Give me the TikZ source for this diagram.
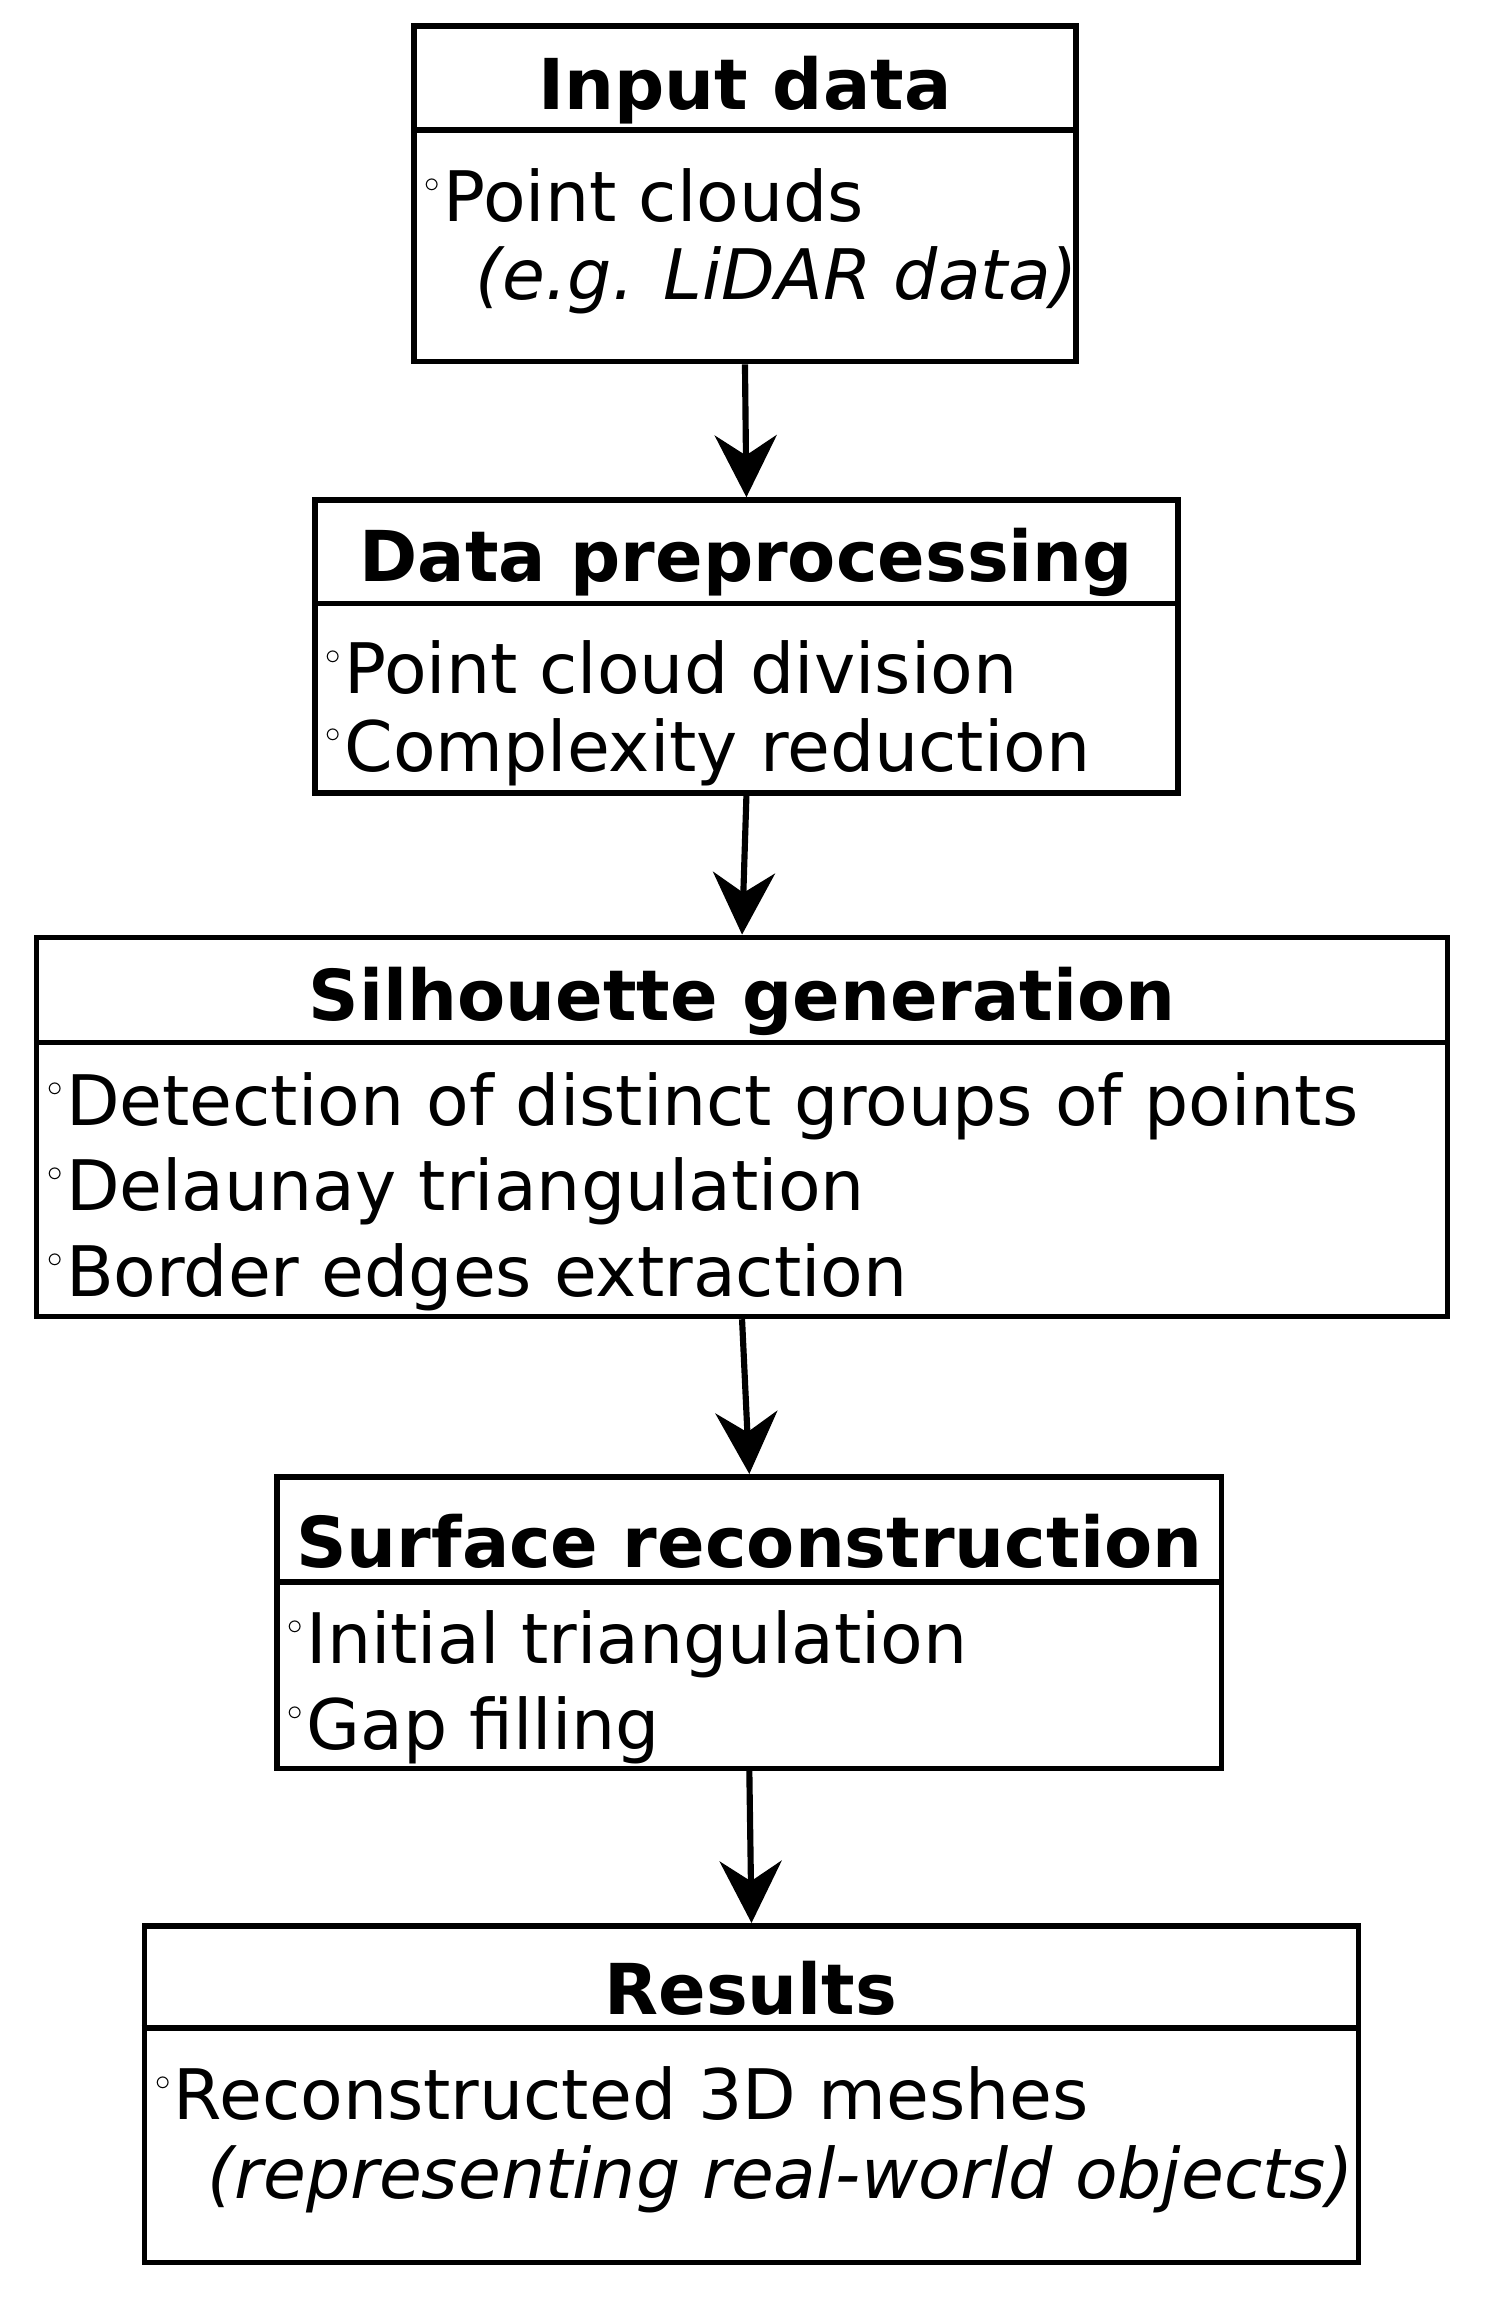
\documentclass[tikz,border=0pt]{standalone}
\usepackage{fontspec}
\setmainfont{DejaVu Sans}
\usetikzlibrary{arrows.meta}
\tikzset{
  box/.style={draw, line width=2.2pt, rectangle, inner sep=0pt},
  head/.style={font=\fontsize{27.4}{32}\selectfont\bfseries},
  item/.style={anchor=west, inner sep=0pt, font=\fontsize{27.2}{32}\selectfont},
  flow/.style={line width=2.4pt, -{Stealth[length=0.85cm, width=0.85cm]}}
}
\newcommand{\bul}{\raisebox{0.42em}{\fontsize{13}{13}\selectfont$\circ$}\hspace{0.05em}}
\begin{document}
\begin{tikzpicture}[x=0.02cm, y=-0.02cm]
    \useasboundingbox (0,0) rectangle (1024,1577);
    % Boxes
    \node[box, minimum width=9.08cm, minimum height=4.6cm] (input) at (511,133) {};
    \node[box, minimum width=11.84cm, minimum height=4.02cm] (prep) at (512,443.5) {};
    \node[box, minimum width=19.36cm, minimum height=5.2cm] (silh) at (509,773) {};
    \node[box, minimum width=12.96cm, minimum height=4.0cm] (surf) at (514,1113) {};
    \node[box, minimum width=16.66cm, minimum height=4.62cm] (res) at (515.5,1436.5) {};

    % Dividers
    \draw[line width=2.2pt] (input.west |- 0,89) -- (input.east |- 0,89);
    \draw[line width=2.2pt] (prep.west |- 0,414) -- (prep.east |- 0,414);
    \draw[line width=2.2pt] (silh.west |- 0,715) -- (silh.east |- 0,715);
    \draw[line width=2.2pt] (surf.west |- 0,1085) -- (surf.east |- 0,1085);
    \draw[line width=2.2pt] (res.west |- 0,1391) -- (res.east |- 0,1391);

    % Titles
    \node[head] (t1) at (511,62) {Input data};
    \node[head] (t2) at (512,386) {Data preprocessing};
    \node[head] (t3) at (509,687) {Silhouette generation};
    \node[head] (t4) at (514,1057) {Surface reconstruction};
    \node[head] (t5) at (515,1364) {Results};

    % Items
    \node[item] (i11) at (291,134) {\bul Point clouds};
    \node[item] (i12) at (326,192) {\itshape (e.g. LiDAR data)};
    \node[item] (i21) at (223,458) {\bul Point cloud division};
    \node[item] (i22) at (223,516) {\bul Complexity reduction};
    \node[item] (i31) at (32,759) {\bul Detection of distinct groups of points};
    \node[item] (i32) at (32,817) {\bul Delaunay triangulation};
    \node[item] (i33) at (32,876) {\bul Border edges extraction};
    \node[item] (i41) at (197,1128) {\bul Initial triangulation};
    \node[item] (i42) at (197,1187) {\bul Gap filling};
    \node[item] (i51) at (106,1436) {\bul Reconstructed 3D meshes};
    \node[item] (i52) at (142,1495) {\itshape (representing real-world objects)};

    % Arrows
    \draw[flow] (input.south) -- (prep.north);
    \draw[flow] (prep.south) -- (silh.north);
    \draw[flow] (silh.south) -- (surf.north);
    \draw[flow] (surf.south) -- (res.north);
\end{tikzpicture}
\end{document}
